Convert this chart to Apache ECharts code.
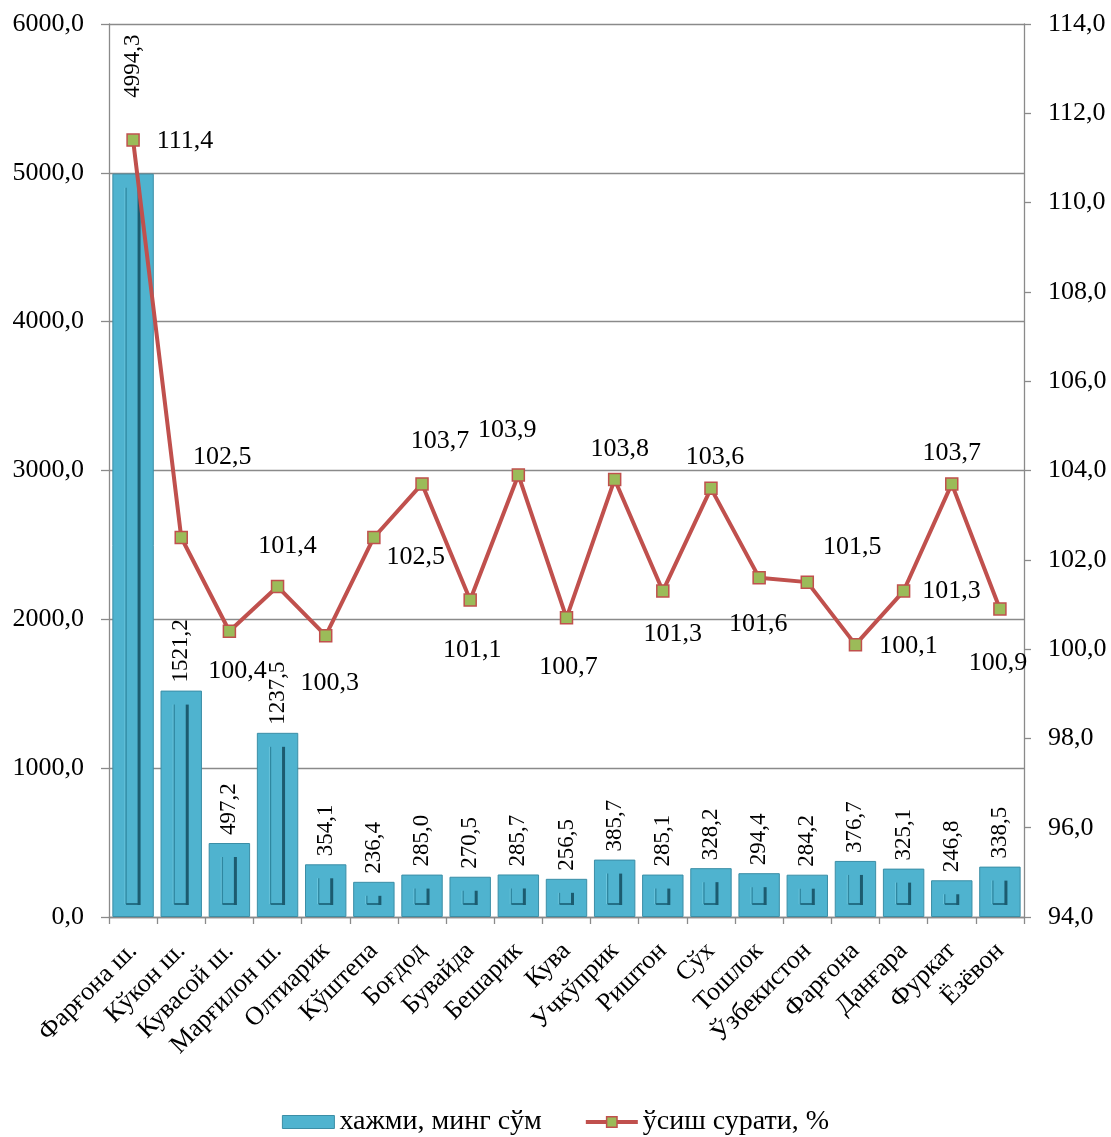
<!DOCTYPE html>
<html>
<head>
<meta charset="utf-8">
<script src="https://cdn.jsdelivr.net/npm/echarts@6/dist/echarts.min.js"></script>
<style>
html,body{margin:0;padding:0;background:#fff;}
#chart{width:1111px;height:1137px;}
</style>
</head>
<body>
<div id="chart"></div>
<script>
// ---- data ----
const categories = ['Фарғона ш.','Кўкон ш.','Кувасой ш.','Марғилон ш.','Олтиарик','Кўштепа','Боғдод','Бувайда','Бешарик','Кува','Учкўприк','Риштон','Сўх','Тошлок','Ўзбекистон','Фарғона','Данғара','Фуркат','Ёзёвон'];
const volumeValues = [4994.3,1521.2,497.2,1237.5,354.1,236.4,285.0,270.5,285.7,256.5,385.7,285.1,328.2,294.4,284.2,376.7,325.1,246.8,338.5];
const growthValues = [111.4,102.5,100.4,101.4,100.3,102.5,103.7,101.1,103.9,100.7,103.8,101.3,103.6,101.6,101.5,100.1,101.3,103.7,100.9];
const seriesNames = ['хажми, минг сўм','ўсиш сурати, %'];

// ---- label layout (style, not data) ----
const lineLabelOffsets = [[52,1],[41,-80],[8,40],[10,-40],[4,47],[42,20],[18,-43],[2,50],[-11,-45],[2,49],[5,-30],[10,43],[4,-31],[-1,47],[45,-35],[53,2],[48,0],[0,-31],[-2,54]];

const FONT = 'Liberation Serif';
const fmt = v => Number(v).toFixed(1).replace('.', ',');
const gridColor = '#8a8a8a';

const chart = echarts.init(document.getElementById('chart'), null, {renderer:'canvas'});

const barData = volumeValues.map((v,i) => {
  const item = {value:v};
  if (i === 0) item.label = {offset:[68,0]};
  return item;
});
const lineData = growthValues.map((v,i) => ({value:v, label:{offset:lineLabelOffsets[i]}}));

const option = {
  backgroundColor:'#fff',
  animation:false,
  textStyle:{fontFamily:FONT},
  grid:{left:109, right:87, top:24, bottom:220, containLabel:false},
  legend:{
    top:1103, left:'center',
    itemWidth:52, itemHeight:13, itemGap:42,
    textStyle:{fontFamily:FONT, fontSize:28, color:'#000'},
    data:[
      {name:seriesNames[0], icon:'rect', itemStyle:{color:'#4fb3cf', borderColor:'#3b8ea6', borderWidth:1}},
      {name:seriesNames[1], lineStyle:{color:'#c0504d', width:4}, itemStyle:{color:'#9bbb59', borderColor:'#c0504d', borderWidth:1.5}}
    ]
  },
  xAxis:{
    type:'category',
    data:categories,
    axisLine:{lineStyle:{color:gridColor, width:1.3}},
    axisTick:{show:true, length:7, lineStyle:{color:gridColor, width:1.3}},
    axisLabel:{rotate:45, fontFamily:FONT, fontSize:26, color:'#000', margin:30, interval:0}
  },
  yAxis:[
    {
      type:'value', min:0, max:6000, interval:1000, position:'left',
      axisLine:{show:true, lineStyle:{color:gridColor, width:1.3}},
      axisTick:{show:true, length:8, lineStyle:{color:gridColor, width:1.3}},
      splitLine:{show:true, lineStyle:{color:gridColor, width:1.3}},
      axisLabel:{formatter:fmt, fontFamily:FONT, fontSize:26, color:'#000', margin:25}
    },
    {
      type:'value', min:94, max:114, interval:2, position:'right',
      axisLine:{show:true, lineStyle:{color:gridColor, width:1.3}},
      axisTick:{show:true, length:7, lineStyle:{color:gridColor, width:1.3}},
      splitLine:{show:false},
      axisLabel:{formatter:fmt, fontFamily:FONT, fontSize:26, color:'#000', margin:24}
    }
  ],
  series:[
    {
      name:seriesNames[0],
      type:'bar',
      yAxisIndex:0,
      barWidth:'86%',
      z:1,
      itemStyle:{color:'#4fb3cf', borderColor:'#3b8ea6', borderWidth:1},
      label:{
        show:true, position:'top', rotate:90, distance:8,
        align:'left', verticalAlign:'middle',
        formatter:p => fmt(p.value),
        fontFamily:FONT, fontSize:23, color:'#000'
      },
      data:barData
    },
    {
      name:'inner',
      type:'custom',
      yAxisIndex:0,
      z:2,
      silent:true,
      data:volumeValues.map((v,i)=>[i,v]),
      renderItem:function(params, api){
        const top = api.coord([api.value(0), api.value(1)]);
        const bot = api.coord([api.value(0), 0]);
        const cx = top[0];
        const yTop = top[1] + 14;
        const yBot = bot[1] - 13;
        if (yBot - yTop < 3) return {type:'group', children:[]};
        return {
          type:'group',
          children:[
            {type:'line', shape:{x1:cx-8, y1:yTop, x2:cx-8, y2:yBot}, style:{stroke:'#6cc6de', lineWidth:1.2}},
            {type:'line', shape:{x1:cx-7, y1:yTop, x2:cx-7, y2:yBot}, style:{stroke:'#2f87a0', lineWidth:1.3}},
            {type:'line', shape:{x1:cx-7, y1:yBot, x2:cx+7, y2:yBot}, style:{stroke:'#236f86', lineWidth:2}},
            {type:'line', shape:{x1:cx+6, y1:yTop, x2:cx+6, y2:yBot+1}, style:{stroke:'#1c5b6f', lineWidth:3}}
          ]
        };
      }
    },
    {
      name:seriesNames[1],
      type:'line',
      yAxisIndex:1,
      z:3,
      symbol:'rect',
      symbolSize:12,
      lineStyle:{color:'#c0504d', width:4},
      itemStyle:{color:'#9bbb59', borderColor:'#c0504d', borderWidth:1.5},
      label:{
        show:true, position:'inside', align:'center', verticalAlign:'middle',
        formatter:p => fmt(p.value),
        fontFamily:FONT, fontSize:26, color:'#000'
      },
      data:lineData
    }
  ]
};
chart.setOption(option);
</script>
</body>
</html>
